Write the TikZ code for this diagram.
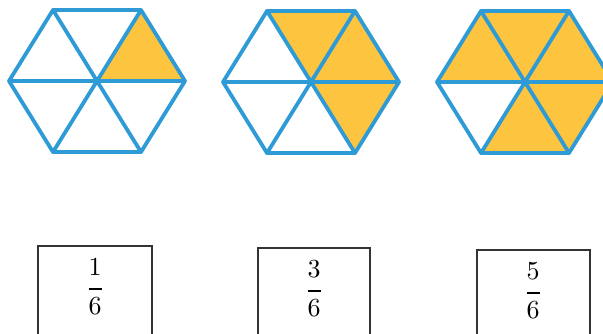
\documentclass[tikz,border=0pt]{standalone}
\usepackage{amsmath}
\usepackage{graphicx}
\usetikzlibrary{calc}

\definecolor{hexblue}{RGB}{46,155,214}
\definecolor{hexgold}{RGB}{253,196,64}

% struts to spread the fractions
\newcommand{\numstrut}{\vrule depth 2.25pt height 0pt width 0pt}
\newcommand{\denstrut}{\vrule height 7.5pt depth 0pt width 0pt}
\newcommand{\bigfrac}[2]{\scalebox{2.6}{$\genfrac{}{}{0.75pt}{0}{#1\numstrut}{\denstrut #2}$}}

\tikzset{
  hexline/.style={draw=hexblue, line width=3.8pt, line join=round, line cap=round},
  part/.style={fill=hexgold},
  fracnum/.style={inner sep=0pt},
  fracbox/.style={draw=black!80, line width=1.1pt}
}

\begin{document}
\begin{tikzpicture}[x=1pt, y=-1pt]
  \def\rx{88}
  \def\hx{44}
  \def\ry{71}
  \useasboundingbox (0,0) rectangle (603,333);
  \clip (0,0) rectangle (603,333);

  % Hexagonos
  \begin{scope}[shift={(97,81)}]
    \coordinate (O1) at (0,0);
    \coordinate (A1) at (\rx,0);
    \coordinate (B1) at (\hx,-\ry);
    \coordinate (C1) at (-\hx,-\ry);
    \coordinate (D1) at (-\rx,0);
    \coordinate (E1) at (-\hx,\ry);
    \coordinate (F1) at (\hx,\ry);
  \end{scope}
  \begin{scope}[shift={(311,82)}]
    \coordinate (O2) at (0,0);
    \coordinate (A2) at (\rx,0);
    \coordinate (B2) at (\hx,-\ry);
    \coordinate (C2) at (-\hx,-\ry);
    \coordinate (D2) at (-\rx,0);
    \coordinate (E2) at (-\hx,\ry);
    \coordinate (F2) at (\hx,\ry);
  \end{scope}
  \begin{scope}[shift={(525,82)}]
    \coordinate (O3) at (0,0);
    \coordinate (A3) at (\rx,0);
    \coordinate (B3) at (\hx,-\ry);
    \coordinate (C3) at (-\hx,-\ry);
    \coordinate (D3) at (-\rx,0);
    \coordinate (E3) at (-\hx,\ry);
    \coordinate (F3) at (\hx,\ry);
  \end{scope}

  % Partes coloreadas
  \fill[part] (O1) -- (A1) -- (B1) -- cycle;

  \fill[part] (O2) -- (A2) -- (B2) -- cycle;
  \fill[part] (O2) -- (B2) -- (C2) -- cycle;
  \fill[part] (O2) -- (F2) -- (A2) -- cycle;

  \fill[part] (O3) -- (A3) -- (B3) -- (C3) -- (D3) -- cycle;
  \fill[part] (O3) -- (E3) -- (F3) -- (A3) -- cycle;

  % Bordes y diagonales
  \draw[hexline] (A1) -- (B1) -- (C1) -- (D1) -- (E1) -- (F1) -- cycle;
  \draw[hexline] (A1) -- (D1) (B1) -- (E1) (C1) -- (F1);
  \draw[hexline] (A2) -- (B2) -- (C2) -- (D2) -- (E2) -- (F2) -- cycle;
  \draw[hexline] (A2) -- (D2) (B2) -- (E2) (C2) -- (F2);
  \draw[hexline] (A3) -- (B3) -- (C3) -- (D3) -- (E3) -- (F3) -- cycle;
  \draw[hexline] (A3) -- (D3) (B3) -- (E3) (C3) -- (F3);

  % Fracciones
  \node[fracnum] (f1) at (95,287) {\bigfrac{1}{6}};
  \node[fracnum] (f2) at (314,289) {\bigfrac{3}{6}};
  \node[fracnum] (f3) at (533,291) {\bigfrac{5}{6}};

  \draw[fracbox] ($(f1)+(-57,-41)$) rectangle ++(114,120);
  \draw[fracbox] ($(f2)+(-56,-41)$) rectangle ++(112,120);
  \draw[fracbox] ($(f3)+(-56,-41)$) rectangle ++(113,120);
\end{tikzpicture}
\end{document}
